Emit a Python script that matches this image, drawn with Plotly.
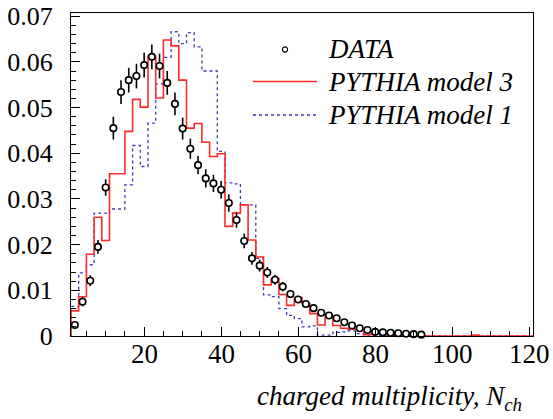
import plotly.graph_objects as go

# ---------------- data ----------------
bin_centers = [2 + 2 * i for i in range(60)]  # even multiplicities, bins of width 2

data_x = [2 + 2 * i for i in range(46)]
data_y = [0.0024, 0.0075, 0.0121, 0.0195, 0.0325, 0.0455, 0.0534, 0.0560, 0.0569, 0.0593,
          0.0611, 0.0591, 0.0554, 0.0508, 0.0454, 0.0410, 0.0374, 0.0345, 0.0334, 0.0320,
          0.0291, 0.0254, 0.0208, 0.0170, 0.0154, 0.0139, 0.0123, 0.0108, 0.0092, 0.0080,
          0.0070, 0.0061, 0.0051, 0.0045, 0.0039, 0.0030, 0.0023, 0.0017, 0.0013, 0.0009,
          0.0008, 0.0007, 0.0006, 0.0005, 0.0004, 0.0003]
data_err = [0.0008, 0.0010, 0.0012, 0.0015, 0.0018, 0.0025, 0.0026, 0.0027, 0.0027, 0.0027,
            0.0027, 0.0027, 0.0026, 0.0025, 0.0024, 0.0022, 0.0020, 0.0020, 0.0019, 0.0019,
            0.0019, 0.0017, 0.0016, 0.0014, 0.0013, 0.0012, 0.0011, 0.0010, 0.0009, 0.0008,
            0.0008, 0.0007, 0.0006, 0.0006, 0.0005, 0.0005, 0.0004, 0.0004, 0.0003, 0.0003,
            0.0002, 0.0002, 0.0002, 0.0002, 0.0002, 0.0002]

model3 = [0.0055, 0.0086, 0.0179, 0.0260, 0.0209, 0.0355, 0.0355, 0.0448, 0.0518, 0.0501,
          0.0613, 0.0521, 0.0648, 0.0635, 0.0560, 0.0455, 0.0465, 0.0424, 0.0393, 0.0399,
          0.0240, 0.0269, 0.0287, 0.0210, 0.0173, 0.0112, 0.0126, 0.0091, 0.0067, 0.0084,
          0.0071, 0.0049, 0.0024, 0.0045, 0.0023, 0.0017, 0.0015, 0.0013, 0.0003, 0.0006,
          0.0004, 0.0003, 0.0002, 0.0002, 0.0001, 0.0001, 0.0000, 0.0000, 0.0000, 0.0000,
          0.0000, 0.0000, 0.0002, 0.0000, 0.0000, 0.0000, 0.0000, 0.0000, 0.0000, 0.0000]

model1 = [0.0065, 0.0138, 0.0156, 0.0269, 0.0269, 0.0278, 0.0278, 0.0331, 0.0417, 0.0371,
          0.0466, 0.0552, 0.0610, 0.0666, 0.0640, 0.0664, 0.0633, 0.0580, 0.0580, 0.0404,
          0.0335, 0.0333, 0.0287, 0.0287, 0.0170, 0.0090, 0.0086, 0.0060, 0.0045, 0.0038,
          0.0020, 0.0022, 0.0002, 0.0002, 0.0008, 0.0009, 0.0011, 0.0005, 0.0002, 0.0001,
          0.0001, 0.0000, 0.0000, 0.0000, 0.0000, 0.0000, 0.0000, 0.0000, 0.0000, 0.0000,
          0.0000, 0.0000, 0.0000, 0.0000, 0.0000, 0.0000, 0.0000, 0.0000, 0.0000, 0.0000]

series_names = ["DATA", "PYTHIA model 3", "PYTHIA model 1"]
x_tick_vals = [20, 40, 60, 80, 100, 120]
x_tick_text = ["20", "40", "60", "80", "100", "120"]
y_tick_vals = [0, 0.01, 0.02, 0.03, 0.04, 0.05, 0.06, 0.07]
y_tick_text = ["0", "0.01", "0.02", "0.03", "0.04", "0.05", "0.06", "0.07"]
x_title = "<i>charged multiplicity, N<sub>ch</sub></i>"

BIN_W = 2
X_RANGE = [1, 121]
Y_RANGE = [0, 0.0707]

RED = "#ff2a2a"
BLUE = "#3c3cb4"
FONT = "Liberation Serif"


def step_xy(centers, vals):
    edges = [c - BIN_W / 2 for c in centers] + [centers[-1] + BIN_W / 2]
    xs = [edges[0]] + edges
    ys = [0] + list(vals) + [vals[-1]]
    return xs, ys


fig = go.Figure()

xs, ys = step_xy(bin_centers, model1)
fig.add_trace(go.Scatter(x=xs, y=ys, mode="lines", line_shape="hv", name=series_names[2],
                         line=dict(color=BLUE, width=1.3, dash="3px,3px"), showlegend=False))
xs, ys = step_xy(bin_centers, model3)
fig.add_trace(go.Scatter(x=xs, y=ys, mode="lines", line_shape="hv", name=series_names[1],
                         line=dict(color=RED, width=1.6), showlegend=False))
fig.add_trace(go.Scatter(x=data_x, y=data_y, mode="markers", name=series_names[0],
                         marker=dict(symbol="circle", size=6.5, color="white",
                                     line=dict(color="black", width=1.6)),
                         error_y=dict(type="data", array=data_err, visible=True,
                                      color="black", thickness=1.6, width=0),
                         showlegend=False, cliponaxis=False))

# window geometry (pixels); the page body margin is removed by a post script
W, H = 553, 419
PL, PR, PT, PB = 71, 533, 13, 336          # plot-area edges in window pixels
L, R, T, B = PL, W - PR, PT, H - PB
PW, PH = PR - PL, PB - PT


def px(xp):
    return (xp - PL) / PW


def py(yp):
    return (PB - yp) / PH


# hand-drawn legend (ROOT style)
leg_rows = [49.5, 81.5, 115]
leg_x0, leg_x1, leg_tx = 253, 317, 326
fig.add_shape(type="circle", xref="paper", yref="paper", xsizemode="pixel", ysizemode="pixel",
              xanchor=px((leg_x0 + leg_x1) / 2), yanchor=py(leg_rows[0]),
              x0=-2.6, x1=2.6, y0=-2.6, y1=2.6, line=dict(color="black", width=1.1),
              fillcolor="white")
fig.add_shape(type="line", xref="paper", yref="paper", x0=px(leg_x0), x1=px(leg_x1),
              y0=py(leg_rows[1]), y1=py(leg_rows[1]), line=dict(color=RED, width=1.6))
fig.add_shape(type="line", xref="paper", yref="paper", x0=px(leg_x0), x1=px(leg_x1),
              y0=py(leg_rows[2]), y1=py(leg_rows[2]), line=dict(color=BLUE, width=1.3, dash="3px,3px"))
for name, yr in zip(series_names, leg_rows):
    fig.add_annotation(text="<i>%s</i>" % name, xref="paper", yref="paper", x=px(leg_tx), y=py(yr),
                       xanchor="left", yanchor="middle", showarrow=False,
                       font=dict(family=FONT, size=27, color="black"))

# x tick labels (placed close to the axis, ROOT style)
for v, t in zip(x_tick_vals, x_tick_text):
    fig.add_annotation(text=t, xref="x", yref="paper", x=v, y=py(353.5),
                       xanchor="center", yanchor="middle", showarrow=False,
                       font=dict(family=FONT, size=27, color="black"))

fig.add_annotation(text=x_title, xref="paper", yref="paper", x=px(524), y=py(398),
                   xanchor="right", yanchor="middle", showarrow=False,
                   font=dict(family=FONT, size=27, color="black"))

fig.update_xaxes(range=X_RANGE, showgrid=False, zeroline=False, showline=True, mirror=True,
                 automargin=False, showticklabels=False,
                 linecolor="black", linewidth=1.3, ticks="inside", ticklen=9, tickwidth=1.3,
                 tickcolor="black", tickvals=x_tick_vals,
                 minor=dict(ticks="inside", ticklen=5, tickwidth=1.1, tickcolor="black", dtick=5,
                            tick0=0, showgrid=False))
fig.update_yaxes(range=Y_RANGE, showgrid=False, zeroline=False, showline=True, mirror=True,
                 automargin=False, ticklabeloverflow="allow",
                 linecolor="black", linewidth=1.3, ticks="inside", ticklen=9, tickwidth=1.3,
                 tickcolor="black", tickvals=y_tick_vals, ticktext=y_tick_text,
                 tickfont=dict(family=FONT, size=26, color="black"), ticklabelstandoff=12,
                 minor=dict(ticks="inside", ticklen=5, tickwidth=1.1, tickcolor="black", dtick=0.002,
                            tick0=0, showgrid=False))

fig.update_layout(width=W, height=H, margin=dict(l=L, r=R, t=T, b=B),
                  plot_bgcolor="white", paper_bgcolor="white", showlegend=False,
                  font=dict(family=FONT))

fig.write_html("out.html", config={"displayModeBar": False},
               post_script="document.body.style.margin='0';document.body.style.padding='0';")
